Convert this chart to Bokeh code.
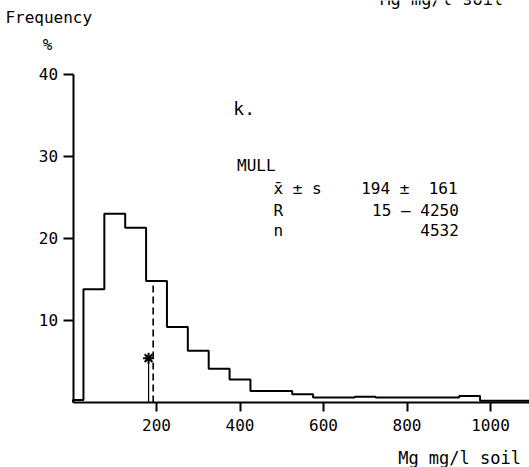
from bokeh.plotting import figure
from bokeh.models import Range1d, FixedTicker, Label
from bokeh.embed import file_html
from bokeh.resources import INLINE

# Histogram of Mg (mg/l soil), MULL
bin_edges = [0, 25, 75, 125, 175, 225, 275, 325, 375, 425, 475, 525, 575,
             625, 675, 725, 775, 825, 875, 925, 975, 1025, 1075, 1125]
freq_pct = [0.3, 13.8, 23.0, 21.3, 14.8, 9.2, 6.3, 4.1, 2.8, 1.4, 1.4, 1.0,
            0.6, 0.6, 0.7, 0.6, 0.6, 0.6, 0.6, 0.8, 0.2, 0.2, 0.2]
mean_x = 192
mean_top = 14.8
median_x = 181
median_y = 5.4
x_ticks = [200, 400, 600, 800, 1000]
y_ticks = [10, 20, 30, 40]

FONT = "DejaVu Sans Mono"
NB = "\u00a0"

p = figure(width=529, height=467, output_backend="svg", toolbar_location=None,
           x_range=Range1d(-173.7, 1093.4), y_range=Range1d(-7.93, 49.02),
           min_border_left=0, min_border_right=0, min_border_top=0,
           min_border_bottom=0)
p.outline_line_color = None
p.xgrid.visible = False
p.ygrid.visible = False
p.background_fill_color = "white"
p.border_fill_color = "white"

# step outline
xs, ys = [bin_edges[0]], [0]
for i, h in enumerate(freq_pct):
    xs += [bin_edges[i], bin_edges[i + 1]]
    ys += [h, h]
p.line(xs, ys, line_color="black", line_width=2)

# mean dashed line and median line with star
p.line([mean_x, mean_x], [0, mean_top], line_color="black", line_width=1.6,
       line_dash="7 4")
p.line([median_x, median_x], [0, median_y], line_color="black", line_width=1.2)
p.scatter([median_x], [median_y], marker="asterisk", size=11, line_color="black",
          line_width=2)

# axes, drawn at the data origin
for ax in p.xaxis:
    ax.fixed_location = 0
    ax.ticker = FixedTicker(ticks=x_ticks)
    ax.bounds = (0, 1100)
    ax.axis_line_width = 2
    ax.major_tick_line_width = 2
    ax.major_tick_out = 9
    ax.major_tick_in = 0
    ax.minor_tick_out = 0
    ax.minor_tick_in = 0
    ax.major_label_text_font = FONT
    ax.major_label_text_font_size = "16px"
    ax.major_label_text_color = "black"
    ax.major_label_standoff = 8
for ax in p.yaxis:
    ax.fixed_location = 0
    ax.ticker = FixedTicker(ticks=y_ticks)
    ax.bounds = (0, 40)
    ax.axis_line_width = 2
    ax.major_tick_line_width = 2
    ax.major_tick_out = 10
    ax.major_tick_in = 0
    ax.minor_tick_out = 0
    ax.minor_tick_in = 0
    ax.major_label_text_font = FONT
    ax.major_label_text_font_size = "16px"
    ax.major_label_text_color = "black"
    ax.major_label_standoff = 5

def lab(x, y, t, size="16px", align="left", baseline="middle"):
    p.add_layout(Label(x=x, y=y, text=t, text_font=FONT, text_font_size=size,
                       text_align=align, text_baseline=baseline,
                       text_color="black"))

lab(-162, 46.95, "Frequency")
lab(-61, 43.7, "%", align="center")
lab(736, 49.2, "Mg mg/l soil", size="17px", baseline="alphabetic")
lab(384, 35.9, "k.", size="18px")
lab(393, 28.9, "MULL")
lab(480, 26.1, "x\u0304" + NB + "\u00b1" + NB + "s")
lab(921, 26.1, "194" + NB + "\u00b1" + NB + NB + "161", align="right")
lab(480, 23.4, "R")
lab(924, 23.4, "15" + NB + "\u2013" + NB + "4250", align="right")
lab(480, 21.0, "n")
lab(924, 21.0, "4532", align="right")
lab(1073, -6.8, "Mg mg/l soil", size="17px", align="right")

open("out.html", "w").write(file_html(p, INLINE))
